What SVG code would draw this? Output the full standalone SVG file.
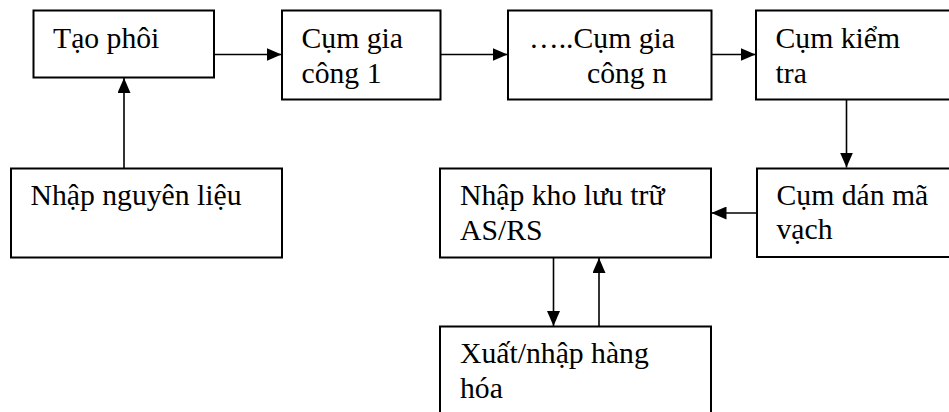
<svg xmlns="http://www.w3.org/2000/svg" width="949" height="412" viewBox="0 0 949 412">
<style>
.box{fill:#fff;stroke:#000;stroke-width:2}
.t{font-family:"Liberation Serif","Times New Roman",serif;font-size:29.7px;fill:#000}
.c{stroke:#000;stroke-width:1.6;fill:none;marker-end:url(#ah)}
</style>
<defs>
<marker id="ah" viewBox="0 0 15 13" refX="15" refY="6.5" markerWidth="15" markerHeight="13" markerUnits="userSpaceOnUse" orient="auto">
<path d="M0,0 L15,6.5 L0,13 Z" fill="#000"/>
</marker>
</defs>
<rect width="949" height="412" fill="#fff"/>
<g id="connectors">
<line class="c" x1="214" y1="54.5" x2="281.5" y2="54.5"/>
<line class="c" x1="441" y1="54.5" x2="507.5" y2="54.5"/>
<line class="c" x1="711.5" y1="54.5" x2="755.5" y2="54.5"/>
<line class="c" x1="124" y1="168" x2="124" y2="78"/>
<line class="c" x1="846.5" y1="99" x2="846.5" y2="167.5"/>
<line class="c" x1="757" y1="213" x2="711.5" y2="213"/>
<line class="c" x1="553.5" y1="257.5" x2="553.5" y2="326"/>
<line class="c" x1="599" y1="326.5" x2="599" y2="258"/>
</g>
<g id="tao-phoi">
<rect class="box" x="33.5" y="10.5" width="180.5" height="67"/>
<text class="t" x="53" y="47.5">Tạo phôi</text>
</g>
<g id="cum-gia-cong-1">
<rect class="box" x="282" y="10.5" width="158.5" height="89"/>
<text class="t" x="301.5" y="48">Cụm gia</text>
<text class="t" x="301.5" y="83">công 1</text>
</g>
<g id="cum-gia-cong-n">
<rect class="box" x="508" y="10.5" width="203.5" height="89"/>
<text class="t" x="529" y="48">…..Cụm gia</text>
<text class="t" x="587" y="83">công n</text>
</g>
<g id="cum-kiem-tra">
<rect class="box" x="756" y="10.5" width="200" height="89"/>
<text class="t" x="775.5" y="48">Cụm kiểm</text>
<text class="t" x="775.5" y="83">tra</text>
</g>
<g id="nhap-nguyen-lieu">
<rect class="box" x="11" y="168.5" width="271" height="89"/>
<text class="t" x="30.5" y="205">Nhập nguyên liệu</text>
</g>
<g id="cum-dan-ma-vach">
<rect class="box" x="757" y="168.5" width="200" height="88.5"/>
<text class="t" x="776.5" y="205">Cụm dán mã</text>
<text class="t" x="776.5" y="239">vạch</text>
</g>
<g id="nhap-kho">
<rect class="box" x="440" y="168.5" width="271" height="89"/>
<text class="t" x="460" y="205">Nhập kho lưu trữ</text>
<text class="t" x="460" y="240">AS/RS</text>
</g>
<g id="xuat-nhap">
<rect class="box" x="440" y="326.5" width="271" height="100"/>
<text class="t" x="460" y="363">Xuất/nhập hàng</text>
<text class="t" x="460" y="398">hóa</text>
</g>
</svg>
